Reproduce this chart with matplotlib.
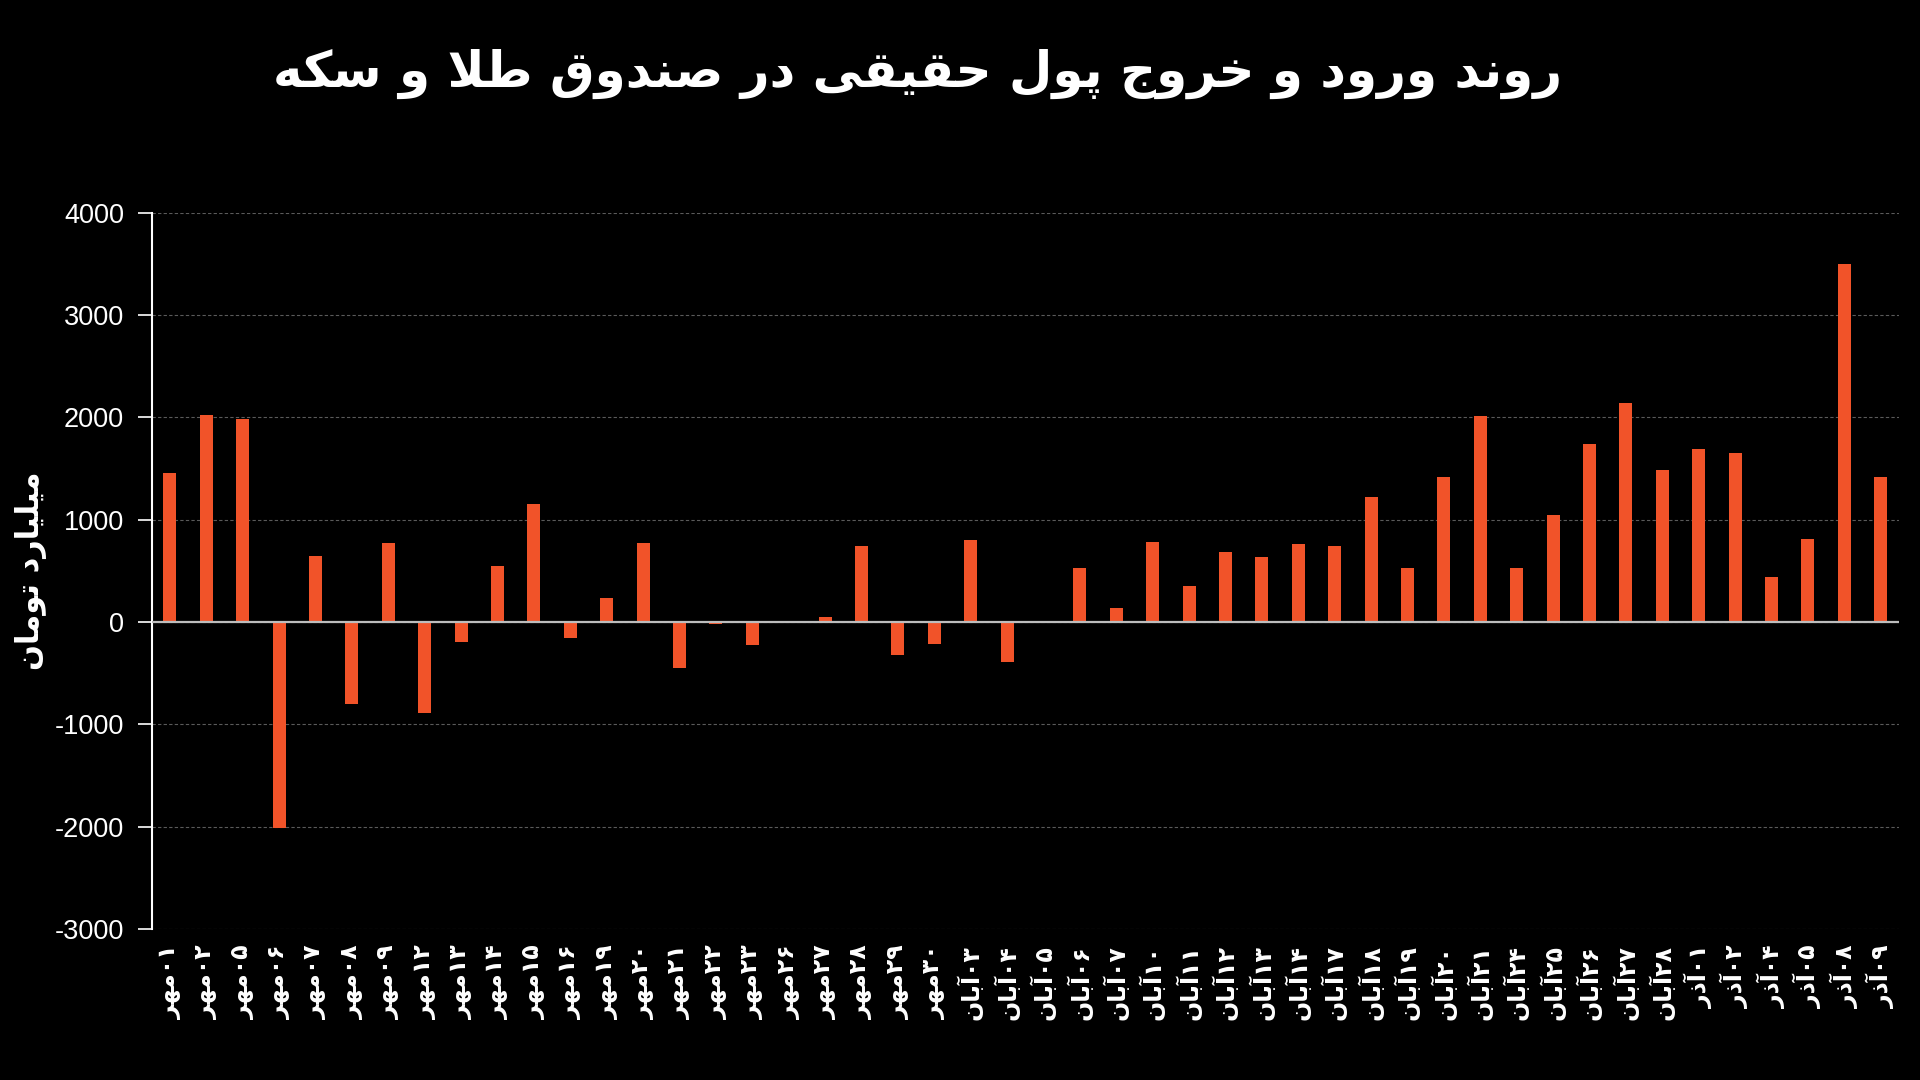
import numpy as np
import matplotlib
matplotlib.use('Agg')
from matplotlib import pyplot as plt

plt.rcParams['axes.unicode_minus'] = False

# data
months = ['مهر'] * 22 + ['آبان'] * 20 + ['آذر'] * 6
days = ['۰۱', '۰۲', '۰۵', '۰۶', '۰۷', '۰۸', '۰۹', '۱۲', '۱۳', '۱۴', '۱۵', '۱۶',
        '۱۹', '۲۰', '۲۱', '۲۲', '۲۳', '۲۶', '۲۷', '۲۸', '۲۹', '۳۰',
        '۰۳', '۰۴', '۰۵', '۰۶', '۰۷', '۱۰', '۱۱', '۱۲', '۱۳', '۱۴',
        '۱۷', '۱۸', '۱۹', '۲۰', '۲۱', '۲۴', '۲۵', '۲۶', '۲۷', '۲۸',
        '۰۱', '۰۲', '۰۴', '۰۵', '۰۸', '۰۹']
flows = [1460, 2020, 1980, -2010, 640, -800, 770, -890, -200, 550, 1150, -160,
         230, 770, -455, -20, -228, 0, 50, 745, -323, -216,
         800, -395, -15, 527, 132, 778, 347, 683, 635, 766,
         743, 1222, 527, 1413, 2012, 527, 1042, 1737, 2144, 1485,
         1689, 1653, 443, 814, 3500, 1413]

title = 'روند ورود و خروج پول حقیقی در صندوق طلا و سکه'
ylabel = 'میلیارد تومان'

# matplotlib has no arabic shaping, so map letters to presentation forms
# (isolated, final, initial, medial); None = does not join to the left
FORMS = {
    'ا': ('\uFE8D', '\uFE8E', None, None),
    'آ': ('\uFE81', '\uFE82', None, None),
    'ب': ('\uFE8F', '\uFE90', '\uFE91', '\uFE92'),
    'پ': ('\uFB56', '\uFB57', '\uFB58', '\uFB59'),
    'ت': ('\uFE95', '\uFE96', '\uFE97', '\uFE98'),
    'ج': ('\uFE9D', '\uFE9E', '\uFE9F', '\uFEA0'),
    'ح': ('\uFEA1', '\uFEA2', '\uFEA3', '\uFEA4'),
    'خ': ('\uFEA5', '\uFEA6', '\uFEA7', '\uFEA8'),
    'د': ('\uFEA9', '\uFEAA', None, None),
    'ذ': ('\uFEAB', '\uFEAC', None, None),
    'ر': ('\uFEAD', '\uFEAE', None, None),
    'س': ('\uFEB1', '\uFEB2', '\uFEB3', '\uFEB4'),
    'ص': ('\uFEB9', '\uFEBA', '\uFEBB', '\uFEBC'),
    'ط': ('\uFEC1', '\uFEC2', '\uFEC3', '\uFEC4'),
    'ق': ('\uFED5', '\uFED6', '\uFED7', '\uFED8'),
    'ک': ('\uFB8E', '\uFB8F', '\uFB90', '\uFB91'),
    'ل': ('\uFEDD', '\uFEDE', '\uFEDF', '\uFEE0'),
    'م': ('\uFEE1', '\uFEE2', '\uFEE3', '\uFEE4'),
    'ن': ('\uFEE5', '\uFEE6', '\uFEE7', '\uFEE8'),
    'ه': ('\uFEE9', '\uFEEA', '\uFEEB', '\uFEEC'),
    'و': ('\uFEED', '\uFEEE', None, None),
    'ی': ('\uFBFC', '\uFBFD', '\uFBFE', '\uFBFF'),
}


def rtl(text):
    out = []
    i = 0
    while i < len(text):
        ch = text[i]
        prev = text[i - 1] if i > 0 else None
        joins_prev = prev in FORMS and FORMS[prev][2] is not None
        if ch == 'ل' and i + 1 < len(text) and text[i + 1] == 'ا':
            out.append('\uFEFC' if joins_prev else '\uFEFB')
            i += 2
            continue
        if ch not in FORMS:
            out.append(ch)
            i += 1
            continue
        nxt = text[i + 1] if i + 1 < len(text) else None
        iso, fin, ini, med = FORMS[ch]
        joins_next = nxt in FORMS and ini is not None
        if joins_prev and joins_next:
            out.append(med)
        elif joins_prev:
            out.append(fin)
        elif joins_next:
            out.append(ini)
        else:
            out.append(iso)
        i += 1
    return ''.join(reversed(out))


labels = [rtl(m) + d for m, d in zip(months, days)]

fig = plt.figure(figsize=(19.2, 10.8), dpi=100, facecolor='black')
ax = fig.add_axes([0.079, 0.140, 0.910, 0.663])
ax.set_facecolor('black')

x = np.arange(len(flows))
ax.bar(x, flows, width=0.36, color='#F15329', zorder=3)

ax.set_xlim(-0.5, len(flows) - 0.5)
ax.set_ylim(-3000, 4000)
ax.set_yticks(range(-3000, 4001, 1000))
ax.yaxis.grid(True, linestyle=(0, (3, 2)), color='#5a5a5a', linewidth=0.8, zorder=0)
ax.axhline(0, color='#bdbdbd', linewidth=1.6, zorder=4)

for s in ['top', 'right', 'bottom']:
    ax.spines[s].set_visible(False)
ax.spines['left'].set_color('white')
ax.spines['left'].set_linewidth(1.5)

ax.tick_params(axis='y', colors='white', length=10, width=1.2, pad=10)
for t in ax.get_yticklabels():
    t.set_fontfamily('Liberation Sans')
    t.set_fontsize(19.5)

ax.set_xticks(x)
ax.set_xticklabels(labels, rotation=90, fontsize=17, fontweight='bold',
                   fontfamily='DejaVu Sans', color='white')
ax.tick_params(axis='x', length=0, pad=12)

ax.set_ylabel(rtl(ylabel), fontsize=22, fontweight='bold', color='white',
              fontfamily='DejaVu Sans', labelpad=14)
ax.yaxis.set_label_coords(-0.060, 0.5)

fig.text(0.478, 0.932, rtl(title), ha='center', va='center', fontsize=36,
         fontweight='bold', color='white', fontfamily='DejaVu Sans')

fig.savefig('out.png', dpi=100, facecolor='black')
